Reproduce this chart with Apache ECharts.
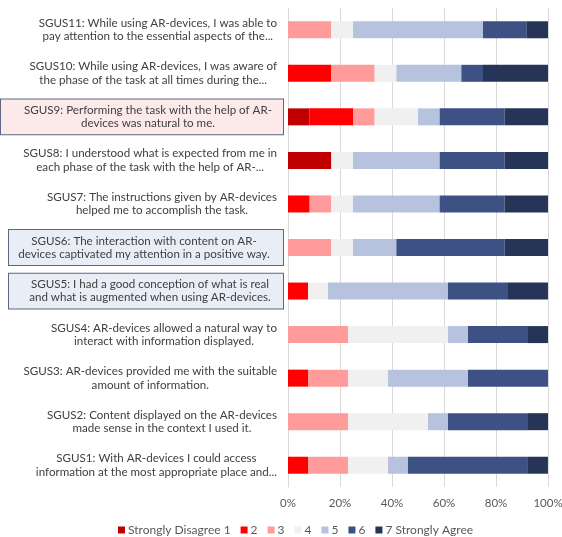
<!DOCTYPE html>
<html>
<head>
<meta charset="utf-8">
<script src="https://cdn.jsdelivr.net/npm/echarts@6/dist/echarts.min.js"></script>
<style>
  html, body { margin: 0; padding: 0; background: #fff; }
  #chart { width: 562px; height: 537px; }
</style>
</head>
<body>
<div id="chart"></div>
<script>
// Survey statements, bottom to top
const statements = [
  'SGUS1: With AR-devices I could access\ninformation at the most appropriate place and...',
  'SGUS2: Content displayed on the AR-devices\nmade sense in the context I used it.',
  'SGUS3: AR-devices provided me with the suitable\namount of information.',
  'SGUS4: AR-devices allowed a natural way to\ninteract with information displayed.',
  'SGUS5: I had a good conception of what is real\nand what is augmented when using AR-devices.',
  'SGUS6: The interaction with content on AR-\ndevices captivated my attention in a positive way.',
  'SGUS7: The instructions given by AR-devices\nhelped me to accomplish the task.',
  'SGUS8: I understood what is expected from me in\neach phase of the task with the help of AR-...',
  'SGUS9: Performing the task with the help of AR-\ndevices was natural to me.',
  'SGUS10: While using AR-devices, I was aware of\nthe phase of the task at all times during the...',
  'SGUS11: While using AR-devices, I was able to\npay attention to the essential aspects of the...'
];

// Share of answers (%) per scale point, same order as statements
const level1 = [0, 0, 0, 0, 0, 0, 0, 16.67, 8.33, 0, 0];
const level2 = [7.69, 0, 7.69, 0, 7.69, 0, 8.33, 0, 16.67, 16.67, 0];
const level3 = [15.38, 23.08, 15.38, 23.08, 0, 16.67, 8.33, 0, 8.33, 16.67, 16.67];
const level4 = [15.38, 30.77, 15.38, 38.46, 7.69, 8.33, 8.33, 8.33, 16.67, 8.33, 8.33];
const level5 = [7.69, 7.69, 30.77, 7.69, 46.15, 16.67, 33.33, 33.33, 8.33, 25, 50];
const level6 = [46.15, 30.77, 30.77, 23.08, 23.08, 41.67, 25, 25, 25, 8.33, 16.67];
const level7 = [7.69, 7.69, 0, 7.69, 15.38, 16.67, 16.67, 16.67, 16.67, 25, 8.33];

const levelNames = ['Strongly Disagree 1', '2', '3', '4', '5', '6', '7 Strongly Agree'];
const levelColors = ['#C00000', '#FF0000', '#FF9B9B', '#F0F0F0', '#B7C3DE', '#3D5185', '#263457'];
const levelData = [level1, level2, level3, level4, level5, level6, level7];

// Highlighted statements get a framed label
const framed = {
  'SGUS9': { backgroundColor: '#FCE9EA', borderColor: '#5D6783', borderWidth: 1, padding: [4, 10, 4, 22], width: 250 },
  'SGUS6': { backgroundColor: '#E9EDF6', borderColor: '#5D6783', borderWidth: 1, padding: [4, 8, 4, 4], width: 262 },
  'SGUS5': { backgroundColor: '#E9EDF6', borderColor: '#5D6783', borderWidth: 1, padding: [4, 8, 4, 16], width: 250 }
};

const FONT = 'Lato';
const LABEL_SIZE = 11.6;

const yData = statements.map(function (s) {
  const key = s.split(':')[0];
  return framed[key] ? { value: s, textStyle: framed[key] } : s;
});

const chart = echarts.init(document.getElementById('chart'), null, { renderer: 'canvas' });

chart.setOption({
  animation: false,
  textStyle: { fontFamily: FONT },
  grid: { left: 288, right: 14, top: 8, bottom: 50, containLabel: false, outerBoundsMode: 'none' },
  xAxis: {
    type: 'value',
    min: 0,
    max: 100,
    interval: 20,
    axisLine: { show: false },
    axisTick: { show: false },
    splitLine: { lineStyle: { color: '#D9D9D9', width: 1 } },
    axisLabel: { formatter: '{value}%', color: '#595959', fontSize: 11.5, fontFamily: FONT, margin: 10 }
  },
  yAxis: {
    type: 'category',
    data: yData,
    axisLine: { show: true, lineStyle: { color: '#D9D9D9' } },
    axisTick: { show: false },
    axisLabel: {
      margin: 5,
      padding: [0, 6, 0, 0],
      color: '#404040',
      fontSize: LABEL_SIZE,
      fontFamily: FONT,
      formatter: function (v) {
        return v.split('\n').map(function (l) { return '{c|' + l + '}'; }).join('\n');
      },
      rich: {
        c: { align: 'center', color: '#404040', fontSize: LABEL_SIZE, fontFamily: FONT, lineHeight: 13.4 }
      }
    }
  },
  legend: {
    top: 519,
    left: 113,
    icon: 'rect',
    itemWidth: 7,
    itemHeight: 7,
    itemGap: 10,
    textStyle: { color: '#595959', fontSize: 12, fontFamily: FONT, padding: [0, 0, 0, -2] },
    data: levelNames
  },
  series: levelNames.map(function (name, i) {
    return {
      name: name,
      type: 'bar',
      stack: 'total',
      barWidth: 17,
      itemStyle: { color: levelColors[i] },
      data: levelData[i]
    };
  })
});
</script>
</body>
</html>
